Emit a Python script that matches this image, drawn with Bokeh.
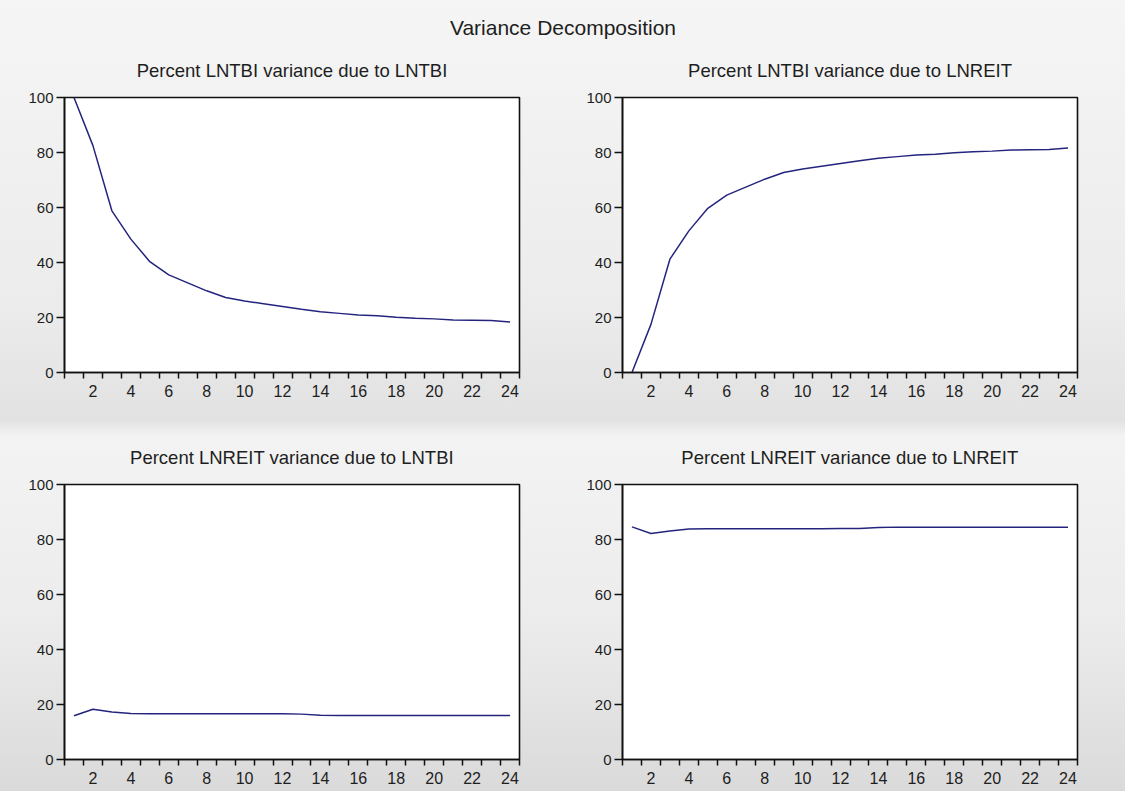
from bokeh.plotting import figure
from bokeh.layouts import column, row
from bokeh.models import FixedTicker, Range1d
from bokeh.embed import file_html
from bokeh.resources import INLINE

# ---------------- data ----------------
horizon = list(range(1, 25))
x_tick_labels = [2, 4, 6, 8, 10, 12, 14, 16, 18, 20, 22, 24]
y_tick_labels = [0, 20, 40, 60, 80, 100]

main_title = "Variance Decomposition"
panel_titles = [
    "Percent LNTBI variance due to LNTBI",
    "Percent LNTBI variance due to LNREIT",
    "Percent LNREIT variance due to LNTBI",
    "Percent LNREIT variance due to LNREIT",
]

lntbi_due_lntbi = [100.0, 82.5, 58.8, 48.5, 40.3, 35.5, 32.6, 29.7, 27.3, 26.0, 25.0, 24.0,
                   23.0, 22.1, 21.5, 20.9, 20.6, 20.1, 19.7, 19.5, 19.1, 19.0, 18.9, 18.4]
lntbi_due_lnreit = [0.0, 17.5, 41.2, 51.5, 59.7, 64.5, 67.4, 70.3, 72.7, 74.0, 75.0, 76.0,
                    77.0, 77.9, 78.5, 79.1, 79.4, 79.9, 80.3, 80.5, 80.9, 81.0, 81.1, 81.6]
lnreit_due_lntbi = [15.9, 18.3, 17.3, 16.7, 16.6, 16.6, 16.6, 16.6, 16.6, 16.6, 16.6, 16.6,
                    16.5, 16.1, 16.0, 16.0, 16.0, 16.0, 16.0, 16.0, 16.0, 16.0, 16.0, 16.0]
lnreit_due_lnreit = [84.6, 82.2, 83.1, 83.8, 83.9, 83.9, 83.9, 83.9, 83.9, 83.9, 83.9, 84.0,
                     84.0, 84.4, 84.5, 84.5, 84.5, 84.5, 84.5, 84.5, 84.5, 84.5, 84.5, 84.5]

series = [lntbi_due_lntbi, lntbi_due_lnreit, lnreit_due_lntbi, lnreit_due_lnreit]

# ---------------- styling ----------------
FONT = "Liberation Sans"
LINE_COLOR = "#24247e"
TEXT_COLOR = "#1e1e1e"

boundaries = [h - 0.5 for h in horizon] + [horizon[-1] + 0.5]


def make_panel(title, values, width, height, b_left, b_right, b_top, b_bottom):
    p = figure(width=width, height=height,
               x_range=Range1d(horizon[0] - 0.5, horizon[-1] + 0.5),
               y_range=Range1d(0, 100),
               output_backend="svg", toolbar_location=None, tools="",
               min_border_left=b_left, min_border_right=b_right,
               min_border_top=b_top, min_border_bottom=b_bottom,
               title=title)
    p.border_fill_color = None
    p.background_fill_color = "white"
    p.outline_line_color = "#111111"
    p.outline_line_width = 1.6
    p.outline_line_alpha = 1.0
    p.grid.visible = False

    p.title.text_font = FONT
    p.title.text_font_size = "18.5px"
    p.title.text_font_style = "normal"
    p.title.text_color = TEXT_COLOR
    p.title.align = "center"
    p.title.standoff = 34

    p.line(horizon, values, line_color=LINE_COLOR, line_width=1.5)

    xa = p.xaxis[0]
    xa.ticker = FixedTicker(ticks=x_tick_labels, minor_ticks=boundaries)
    xa.major_tick_out = 0
    xa.major_tick_in = 0
    xa.minor_tick_out = 6
    xa.minor_tick_in = 0
    xa.minor_tick_line_color = "#111111"
    xa.minor_tick_line_width = 1.5
    xa.axis_line_color = "#111111"
    xa.axis_line_width = 1.6
    xa.major_label_standoff = 6
    xa.major_label_text_font = FONT
    xa.major_label_text_font_size = "16px"
    xa.major_label_text_color = TEXT_COLOR

    ya = p.yaxis[0]
    ya.ticker = FixedTicker(ticks=y_tick_labels, minor_ticks=[])
    ya.major_tick_out = 8
    ya.major_tick_in = 0
    ya.major_tick_line_color = "#111111"
    ya.major_tick_line_width = 1.5
    ya.axis_line_color = "#111111"
    ya.axis_line_width = 1.6
    ya.major_label_standoff = 3
    ya.major_label_text_font = FONT
    ya.major_label_text_font_size = "15px"
    ya.major_label_text_color = TEXT_COLOR
    return p


# title strip
t = figure(width=1125, height=40, output_backend="svg", toolbar_location=None, tools="",
           title=main_title, min_border_top=38, min_border_bottom=0,
           min_border_left=0, min_border_right=0)
t.border_fill_color = None
t.background_fill_color = None
t.outline_line_color = None
t.axis.visible = False
t.grid.visible = False
t.title.text_font = FONT
t.title.text_font_size = "21px"
t.title.text_font_style = "normal"
t.title.text_color = TEXT_COLOR
t.title.align = "center"
t.title.standoff = 0
t.scatter([0], [0], alpha=0)

# panels: frame 455 x 275
p1 = make_panel(panel_titles[0], series[0], 562, 387, 64, 43, 57, 55)
p2 = make_panel(panel_titles[1], series[1], 563, 387, 60, 48, 57, 55)
p3 = make_panel(panel_titles[2], series[2], 562, 364, 64, 43, 57, 32)
p4 = make_panel(panel_titles[3], series[3], 563, 364, 60, 48, 57, 32)

layout = column(t, row(p1, p2), row(p3, p4), spacing=0,
                styles={"background": "linear-gradient(180deg, #f5f5f5 0px, #ececec 300px, "
                                      "#e2e2e2 420px, #f3f3f3 436px, #ececec 620px, #dadada 791px)"})

open("out.html", "w").write(file_html(layout, INLINE, title="Variance Decomposition"))
